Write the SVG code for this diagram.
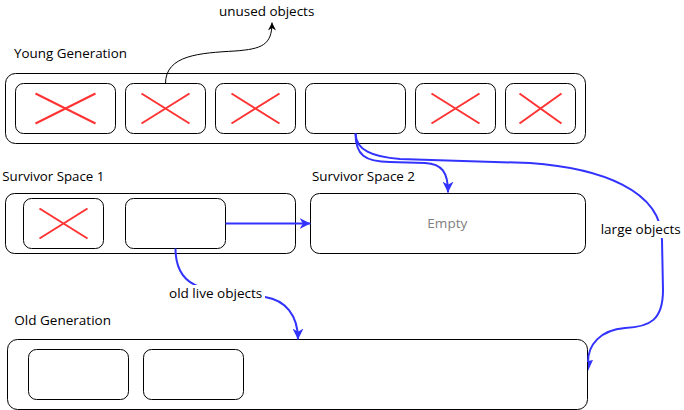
<svg xmlns="http://www.w3.org/2000/svg" width="684" height="410" viewBox="0 0 684 410">
<style>
.box{fill:#fff;stroke:#000;stroke-width:1}
.x{stroke:#ff3333;stroke-width:2;fill:none}
.t{font-family:"Open Sans","Noto Sans",sans-serif;font-size:13px;fill:#000}
.e{fill:none;stroke:#3333ff;stroke-width:2}
.k{fill:none;stroke:#000;stroke-width:1}
</style>
<defs>
<marker id="ab" viewBox="0 0 10 10" refX="10" refY="5" markerWidth="11" markerHeight="11" markerUnits="userSpaceOnUse" orient="auto"><path d="M0,0 L10,5 L0,10 L3,5 Z" fill="#3333ff"/></marker>
<marker id="ak" viewBox="0 0 10 10" refX="10" refY="5" markerWidth="9" markerHeight="8" markerUnits="userSpaceOnUse" orient="auto"><path d="M0,0 L10,5 L0,10 L3,5 Z" fill="#000"/></marker>
</defs>
<g id="young-generation">
<text class="t" x="14" y="58" textLength="113" lengthAdjust="spacingAndGlyphs">Young Generation</text>
<rect class="box" x="5.5" y="73.5" width="580" height="70" rx="10"/>
</g>
<g id="young-obj-1"><rect class="box" x="15.5" y="83.5" width="100" height="50" rx="8"/><path class="x" d="M35.5 93.5 L95.5 123.5 M95.5 93.5 L35.5 123.5"/></g>
<g id="young-obj-2"><rect class="box" x="125.5" y="83.5" width="80" height="50" rx="8"/><path class="x" d="M141.5 93.5 L189.5 123.5 M189.5 93.5 L141.5 123.5"/></g>
<g id="young-obj-3"><rect class="box" x="215.5" y="83.5" width="80" height="50" rx="8"/><path class="x" d="M231.5 93.5 L279.5 123.5 M279.5 93.5 L231.5 123.5"/></g>
<g id="young-obj-4"><rect class="box" x="305.5" y="83.5" width="100" height="50" rx="8"/></g>
<g id="young-obj-5"><rect class="box" x="415.5" y="83.5" width="80" height="50" rx="8"/><path class="x" d="M431.5 93.5 L479.5 123.5 M479.5 93.5 L431.5 123.5"/></g>
<g id="young-obj-6"><rect class="box" x="505.5" y="83.5" width="70" height="50" rx="8"/><path class="x" d="M519.5 93.5 L561.5 123.5 M561.5 93.5 L519.5 123.5"/></g>
<g id="survivor-space-1">
<text class="t" x="2.3" y="181" textLength="102" lengthAdjust="spacingAndGlyphs">Survivor Space 1</text>
<rect class="box" x="5.5" y="193.5" width="290" height="60" rx="9"/>
</g>
<g id="surv1-obj-1"><rect class="box" x="23.5" y="198.5" width="80" height="50" rx="8"/><path class="x" d="M39.5 208.5 L87.5 238.5 M87.5 208.5 L39.5 238.5"/></g>
<g id="surv1-obj-2"><rect class="box" x="125.5" y="198.5" width="100" height="50" rx="8"/></g>
<g id="survivor-space-2">
<text class="t" x="312" y="181" textLength="103" lengthAdjust="spacingAndGlyphs">Survivor Space 2</text>
<rect class="box" x="310.5" y="193.5" width="275" height="60" rx="9"/>
<text class="t" x="427.3" y="228" textLength="40" lengthAdjust="spacingAndGlyphs" style="fill:#808080">Empty</text>
</g>
<g id="old-generation">
<text class="t" x="14.3" y="325" textLength="96.7" lengthAdjust="spacingAndGlyphs">Old Generation</text>
<rect class="box" x="7.5" y="339.5" width="580" height="70" rx="10"/>
</g>
<g id="old-obj-1"><rect class="box" x="28.5" y="349.5" width="100" height="50" rx="8"/></g>
<g id="old-obj-2"><rect class="box" x="143.5" y="349.5" width="100" height="50" rx="8"/></g>
<g id="unused-label"><text class="t" x="219" y="15.5" textLength="95.3" lengthAdjust="spacingAndGlyphs">unused objects</text></g>
<g id="connectors">
<path class="k" d="M165.5 83.5 C165.5 55, 200 53, 235 51 C262 49, 272 45, 272 22.5" marker-end="url(#ak)"/>
<path class="e" d="M225.5 223.5 L310.5 223.5" marker-end="url(#ab)"/>
<path class="e" d="M355.5 133.5 C355.5 155, 365 162, 390 162 L425 163 C442 164, 448 172, 448 192.5" marker-end="url(#ab)"/>
<path class="e" d="M355.5 133.5 C356 150, 372 157, 400 159 L530 163 C600 168, 662 190, 662 240 L663 290 C663 320, 650 327, 625 328 C600 330, 588 345, 588 362"/>
<path d="M588 371 L588 361 L593 360 Z" fill="#3333ff"/>
<path class="e" d="M175.5 248.5 C175.5 270, 185 282, 200 287 C230 296, 255 296, 265 297 C285 300, 298 315, 298 339.5" marker-end="url(#ab)"/>
<rect x="598" y="221" width="86" height="17" fill="#fff"/>
<text class="t" x="600.7" y="234" textLength="80" lengthAdjust="spacingAndGlyphs">large objects</text>
<rect x="166" y="285" width="99" height="17" fill="#fff"/>
<text class="t" x="169" y="298" textLength="93.3" lengthAdjust="spacingAndGlyphs">old live objects</text>
</g>
</svg>
